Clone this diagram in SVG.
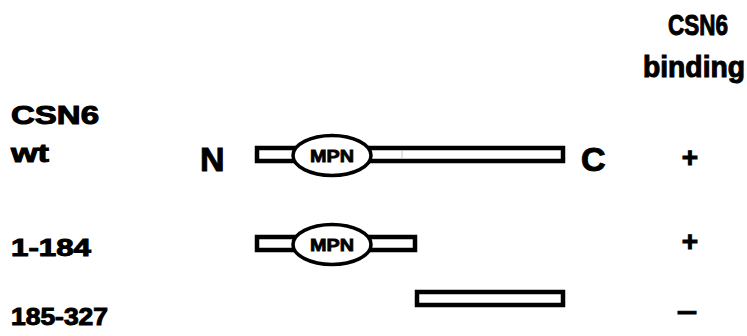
<svg xmlns="http://www.w3.org/2000/svg" width="747" height="336" viewBox="0 0 747 336">
  <style>
    .lbl { font-family: "Liberation Sans", Arial, sans-serif; font-weight: bold; fill: #000; stroke: #000; stroke-width: 1; }
    .bar { fill: #fff; stroke: #000; stroke-width: 4.5; }
    .dom { fill: #fff; stroke: #000; stroke-width: 3.5; }
    .dtxt { font-family: "Liberation Sans", Arial, sans-serif; font-weight: bold; font-size: 17px; fill: #000; stroke: #000; stroke-width: 0.8; text-anchor: middle; }
  </style>
  <rect width="747" height="336" fill="#fff"/>

  <!-- column header -->
  <g id="header">
    <text class="lbl" x="668" y="35" font-size="29" textLength="60" lengthAdjust="spacingAndGlyphs">CSN6</text>
    <text class="lbl" x="643" y="77" font-size="29" textLength="102" lengthAdjust="spacingAndGlyphs">binding</text>
  </g>

  <!-- full-length construct -->
  <g id="wt">
    <text class="lbl" x="11" y="124" font-size="25" textLength="88" lengthAdjust="spacingAndGlyphs">CSN6</text>
    <text class="lbl" x="11" y="162" font-size="25" textLength="38" lengthAdjust="spacingAndGlyphs">wt</text>
    <text class="lbl" x="200" y="171" font-size="34">N</text>
    <rect class="bar" x="257" y="148" width="306" height="13"/>
    <line x1="402" y1="150.5" x2="402" y2="158.5" stroke="#aaa" stroke-width="0.7"/>
    <ellipse class="dom" cx="332" cy="155.5" rx="39" ry="20"/>
    <text class="dtxt" x="332" y="162" textLength="44" lengthAdjust="spacingAndGlyphs">MPN</text>
    <text class="lbl" x="581" y="171" font-size="34">C</text>
    <text class="lbl" x="690" y="167" font-size="28" text-anchor="middle">+</text>
  </g>

  <!-- N-terminal fragment -->
  <g id="f1-184">
    <text class="lbl" x="11" y="256" font-size="24" textLength="80" lengthAdjust="spacingAndGlyphs">1-184</text>
    <rect class="bar" x="257" y="237" width="158" height="13"/>
    <ellipse class="dom" cx="332" cy="244.5" rx="39" ry="20"/>
    <text class="dtxt" x="332" y="251" textLength="44" lengthAdjust="spacingAndGlyphs">MPN</text>
    <text class="lbl" x="690" y="251" font-size="28" text-anchor="middle">+</text>
  </g>

  <!-- C-terminal fragment -->
  <g id="f185-327">
    <text class="lbl" x="11" y="325" font-size="24" textLength="97" lengthAdjust="spacingAndGlyphs">185-327</text>
    <rect class="bar" x="417" y="292" width="146" height="13"/>
    <text class="lbl" x="677" y="320" font-size="28" textLength="20" lengthAdjust="spacingAndGlyphs">–</text>
  </g>
</svg>
